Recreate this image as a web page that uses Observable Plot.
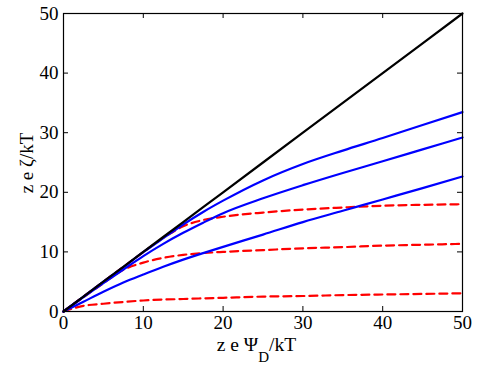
<!DOCTYPE html>
<html>
<head>
<meta charset="utf-8">
<script src="https://cdn.jsdelivr.net/npm/d3@7"></script>
<script src="https://cdn.jsdelivr.net/npm/@observablehq/plot@0.6"></script>
<style>
  html, body { margin: 0; padding: 0; background: #fff; }
  #chart svg { display: block; }
  #chart svg text { font-family: "Liberation Serif", "Times New Roman", serif; }
</style>
</head>
<body>
<div id="chart"></div>
<script>
// x values (z e Ψ_D / kT)
const xs    = [0, 2.5, 5, 7.5, 10, 12.5, 15, 17.5, 20, 25, 30, 35, 40, 45, 50];
// reference line z e ζ/kT = z e Ψ_D/kT
const black = [0, 2.5, 5, 7.5, 10, 12.5, 15, 17.5, 20, 25, 30, 35, 40, 45, 50];
// solid blue curves
const blue1 = [0, 2.5, 5, 7.45, 9.95, 12.3, 14.6, 16.7, 18.6, 22.0, 24.75, 27.0, 29.1, 31.3, 33.45];
const blue2 = [0, 2.4, 4.75, 7.05, 9.3, 11.35, 13.2, 14.9, 16.5, 19.0, 21.2, 23.25, 25.2, 27.2, 29.2];
const blue3 = [0, 1.65, 3.3, 4.85, 6.2, 7.5, 8.7, 9.8, 10.85, 12.9, 15.0, 16.9, 18.8, 20.7, 22.65];
// dashed red curves
const red1  = [0, 2.5, 5, 7.5, 9.95, 12.35, 14.3, 15.35, 15.9, 16.6, 17.1, 17.45, 17.75, 17.9, 18.0];
const red2  = [0, 2.4, 4.75, 7.0, 8.2, 9.0, 9.5, 9.8, 10.0, 10.3, 10.6, 10.8, 11.05, 11.2, 11.35];
const red3  = [0, 0.95, 1.3, 1.6, 1.85, 2.0, 2.1, 2.2, 2.3, 2.5, 2.6, 2.75, 2.85, 2.95, 3.05];
const ticks = [0, 10, 20, 30, 40, 50];

const toRows = (ys, name) => xs.map((x, i) => ({x, y: ys[i], s: name}));
const blueRows = [...toRows(blue1, "b1"), ...toRows(blue2, "b2"), ...toRows(blue3, "b3")];
const redRows  = [...toRows(red1, "r1"), ...toRows(red2, "r2"), ...toRows(red3, "r3")];
const blackRows = toRows(black, "k");

const W = 485, H = 374, mL = 63, mR = 23, mT = 13, mB = 63;
const pw = W - mL - mR, ph = H - mT - mB;
const tk = 5;
const serif = "Liberation Serif, Times New Roman, serif";

const plot = Plot.plot({
  width: W, height: H,
  marginLeft: mL, marginRight: mR, marginTop: mT, marginBottom: mB,
  style: {fontFamily: serif, fontSize: "19px", color: "#000", background: "#fff"},
  x: {domain: [0, 50]},
  y: {domain: [0, 50]},
  marks: [
    Plot.lineY(redRows, {x: "x", y: "y", z: "s", stroke: "#ff0000", strokeWidth: 2.2, strokeDasharray: "8,5", curve: "monotone-x"}),
    Plot.lineY(blueRows, {x: "x", y: "y", z: "s", stroke: "#0000ff", strokeWidth: 2.2, curve: "monotone-x"}),
    Plot.lineY(blackRows, {x: "x", y: "y", stroke: "#000", strokeWidth: 2.2}),
    // inward ticks on all four sides
    Plot.tickX(ticks, {x: d => d, insetTop: ph - tk, stroke: "#000", strokeWidth: 1}),
    Plot.tickX(ticks, {x: d => d, insetBottom: ph - tk, stroke: "#000", strokeWidth: 1}),
    Plot.tickY(ticks, {y: d => d, insetRight: pw - tk, stroke: "#000", strokeWidth: 1}),
    Plot.tickY(ticks, {y: d => d, insetLeft: pw - tk, stroke: "#000", strokeWidth: 1}),
    Plot.axisX(ticks, {anchor: "bottom", tickSize: 0, tickPadding: 4, label: null, fontSize: 19}),
    Plot.axisY(ticks, {anchor: "left", tickSize: 0, tickPadding: 5, label: null, fontSize: 19}),
    Plot.frame({stroke: "#000", strokeWidth: 1.2})
  ]
});

document.getElementById("chart").appendChild(plot);

// axis titles (with subscript)
const svg = d3.select(plot);
const xl = svg.append("text")
  .attr("x", 256.5).attr("y", 351)
  .attr("text-anchor", "middle")
  .attr("font-family", serif)
  .attr("font-size", 19.5)
  .attr("fill", "#000");
xl.append("tspan").text("z e Ψ");
xl.append("tspan").attr("dy", 11).attr("font-size", 15).text("D");
xl.append("tspan").attr("dy", -11).text("/kT");

svg.append("text")
  .attr("transform", "translate(33,163) rotate(-90)")
  .attr("text-anchor", "middle")
  .attr("font-family", serif)
  .attr("font-size", 19)
  .attr("fill", "#000")
  .text("z e ζ/kT");
</script>
</body>
</html>
